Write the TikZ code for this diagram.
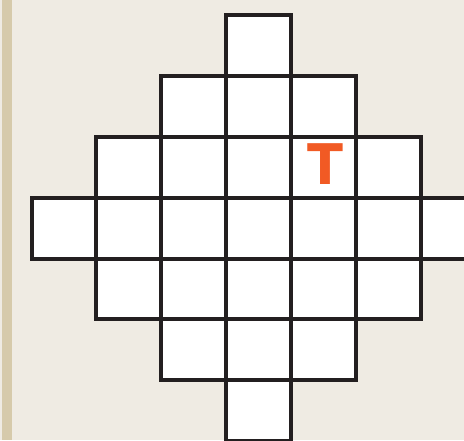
\documentclass[tikz,border=0pt]{standalone}
\usepackage{fontspec}
\newfontfamily\tfont{DejaVu Sans}
\definecolor{bg}{HTML}{EFEBE3}
\definecolor{strip}{HTML}{D6CAAB}
\definecolor{ink}{HTML}{231F20}
\definecolor{torange}{HTML}{F15A24}
\begin{document}
\begin{tikzpicture}[x=1pt,y=-1pt,
  cellfill/.style={fill=white},
  celldraw/.style={draw=ink,line width=4pt,line join=miter}]
\useasboundingbox (0,0) rectangle (464,440);
\clip (0,0) rectangle (464,440);
\fill[bg] (0,0) rectangle (464,440);
\fill[strip] (2,0) rectangle (12,440);
\foreach \r in {0,...,6}{
  \pgfmathtruncatemacro\d{abs(3-\r)}
  \pgfmathtruncatemacro\e{6-\d}
  \foreach \c in {\d,...,\e}{
    \path[cellfill] ({31.5+64.9*\c},{15.3+60.8*\r}) rectangle ++(64.9,60.8);
  }
}
\foreach \r in {0,...,6}{
  \pgfmathtruncatemacro\d{abs(3-\r)}
  \pgfmathtruncatemacro\e{6-\d}
  \foreach \c in {\d,...,\e}{
    \path[celldraw] ({31.5+64.9*\c},{15.3+60.8*\r}) rectangle ++(64.9,60.8);
  }
}
\node[text=torange,font=\tfont\bfseries\fontsize{56}{56}\selectfont,inner sep=0,xscale=0.94] (T) at (325.5,164.5) {T};
\end{tikzpicture}
\end{document}
